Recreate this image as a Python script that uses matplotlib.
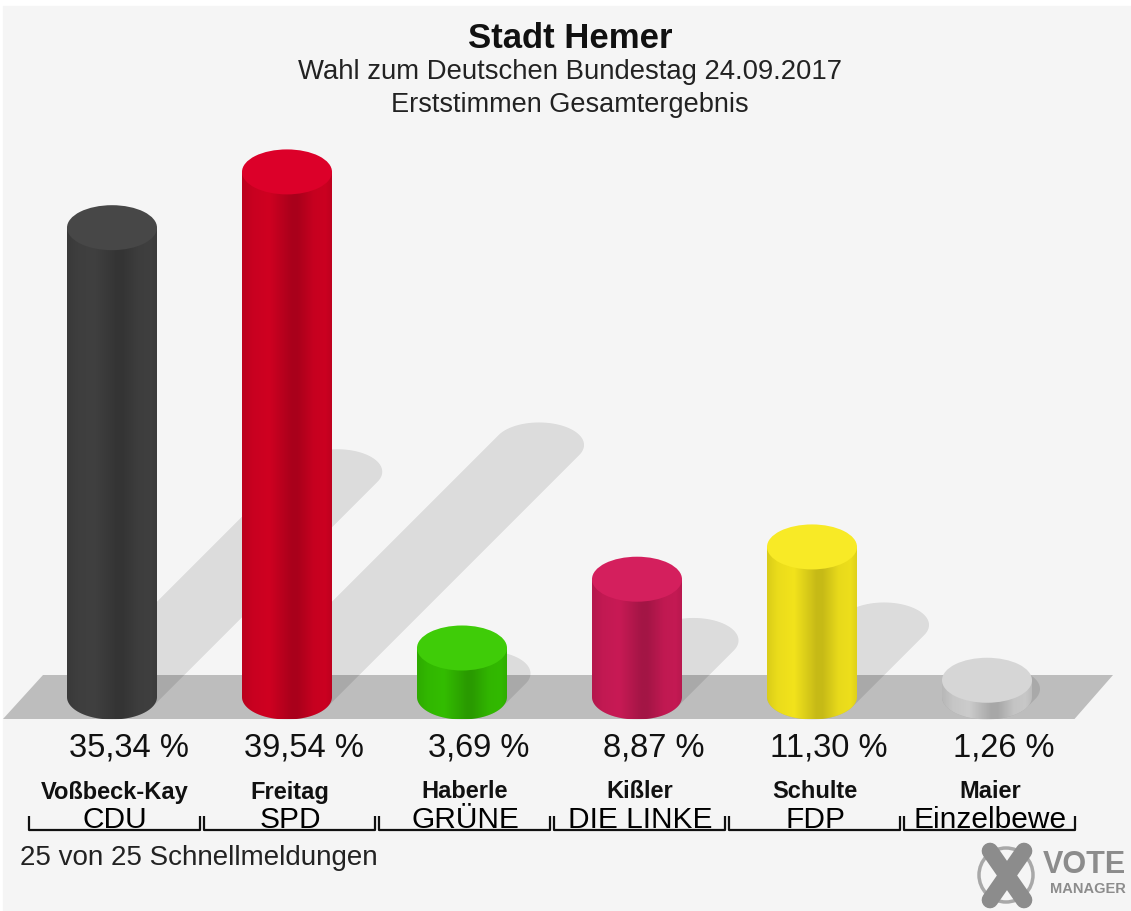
import numpy as np
import matplotlib
matplotlib.use("Agg")
import matplotlib.pyplot as plt
from matplotlib.patches import Ellipse, Polygon, Rectangle, PathPatch
from matplotlib.path import Path
from matplotlib.colors import to_rgb

plt.rcParams["font.family"] = ["Liberation Sans", "DejaVu Sans"]

# ---------------------------------------------------------------
# Daten
# ---------------------------------------------------------------
kandidaten = ["Voßbeck-Kay", "Freitag", "Haberle", "Kißler", "Schulte", "Maier"]
parteien = ["CDU", "SPD", "GRÜNE", "DIE LINKE", "FDP", "Einzelbewe"]
anteile = [35.34, 39.54, 3.69, 8.87, 11.30, 1.26]
farben = ["#404040", "#cf0021", "#33bd00", "#c81a55", "#f2e31c", "#cccccc"]
deckel = ["#474747", "#dc0029", "#3fcc08", "#d41f5d", "#f8ea26", "#d6d6d6"]

titel = "Stadt Hemer"
untertitel = "Wahl zum Deutschen Bundestag 24.09.2017"
untertitel2 = "Erststimmen Gesamtergebnis"
fusszeile = "25 von 25 Schnellmeldungen"

# ---------------------------------------------------------------
# Layout (Pixel -> Datenkoordinaten)
# ---------------------------------------------------------------
W, H = 1131, 911
PX_CAT = 175.0      # Pixel pro Kategorie
PX_PCT = 13.28      # Pixel pro Prozentpunkt
X0 = 112.0          # Mitte erster Balken
BASE = 697.0        # Bodenlinie (Mitte Grundellipse)
EW = 90 / PX_CAT    # Ellipsenbreite
EH = 45 / PX_PCT    # Ellipsenhoehe
SHADOW_K = 0.48


def py(px):
    return (BASE - px) / PX_PCT


def px_x(px):
    return (px - X0) / PX_CAT


def ellipse_pts(cx, cy, w, h, n=80):
    t = np.linspace(0, 2 * np.pi, n, endpoint=False)
    return np.column_stack([cx + w / 2 * np.cos(t), cy + h / 2 * np.sin(t)])


def hull(pts):
    pts = sorted(map(tuple, pts))
    def cross(o, a, b):
        return (a[0] - o[0]) * (b[1] - o[1]) - (a[1] - o[1]) * (b[0] - o[0])
    lower, upper = [], []
    for p in pts:
        while len(lower) >= 2 and cross(lower[-2], lower[-1], p) <= 0:
            lower.pop()
        lower.append(p)
    for p in reversed(pts):
        while len(upper) >= 2 and cross(upper[-2], upper[-1], p) <= 0:
            upper.pop()
        upper.append(p)
    return np.array(lower[:-1] + upper[:-1])


fig = plt.figure(figsize=(W / 100, H / 100), dpi=100, facecolor="white")
ax = fig.add_axes([0, 0, 1, 1])
ax.set_xlim(px_x(0), px_x(W))
ax.set_ylim(py(H), py(0))
ax.axis("off")

ax.add_patch(Rectangle((px_x(3), py(H)), px_x(W) - px_x(3), py(6) - py(H),
                       color="#f5f5f5", zorder=0))

n = len(anteile)
# Boden
boden = [(px_x(3), py(719)), (px_x(43), py(675)),
         (n - 0.5 + 0.22, py(675)), (n - 0.5 + 0.0, py(719))]
ax.add_patch(Polygon(boden, closed=True, color="#bdbdbd", zorder=1, lw=0))

# Schatten
for i, v in enumerate(anteile):
    dx = SHADOW_K * v * PX_PCT / PX_CAT
    dy = SHADOW_K * v
    pts = np.vstack([ellipse_pts(i, 0, EW, EH), ellipse_pts(i + dx, dy, EW, EH)])
    ax.add_patch(Polygon(hull(pts), closed=True, facecolor="black",
                         alpha=0.1, lw=0, zorder=2))

# Zylinder
prof_t = [0.0, 0.12, 0.3, 0.55, 0.62, 0.8, 0.93, 1.0]
prof_f = [0.9, 0.97, 1.0, 0.82, 0.82, 0.96, 0.98, 0.92]
tt = np.linspace(0, 1, 200)
ff = np.interp(tt, prof_t, prof_f)
for i, v in enumerate(anteile):
    base = np.array(to_rgb(farben[i]))
    grad = np.clip(base[None, :] * ff[:, None], 0, 1)[None, :, :]
    # Koerper: Rechteck + untere Halbellipse
    t = np.linspace(np.pi, 2 * np.pi, 60)
    bottom = np.column_stack([i + EW / 2 * np.cos(t), EH / 2 * np.sin(t)])
    verts = np.vstack([[i - EW / 2, v], bottom, [i + EW / 2, v], [i - EW / 2, v]])
    body = Path(verts, closed=True)
    patch = PathPatch(body, facecolor="none", edgecolor="none", zorder=3)
    ax.add_patch(patch)
    im = ax.imshow(grad, extent=[i - EW / 2, i + EW / 2, -EH / 2, v],
                   aspect="auto", interpolation="bilinear", zorder=3)
    im.set_clip_path(patch)
    ax.add_patch(Ellipse((i, v), EW, EH, facecolor=deckel[i],
                         edgecolor="none", zorder=4))

# Beschriftung
for i in range(n):
    ax.text(i + 17 / PX_CAT, py(748), f"{anteile[i]:.2f} %".replace(".", ","),
            ha="center", va="center", fontsize=23.5, color="#111111")
    ax.text(i + 3 / PX_CAT, py(792), kandidaten[i], ha="center", va="center",
            fontsize=17, fontweight="bold", color="#111111")
    ax.text(i + 3 / PX_CAT, py(820), parteien[i], ha="center", va="center",
            fontsize=21.5, color="#000000")
    l, r = i + (29 - 112) / PX_CAT, i + (200 - 112) / PX_CAT
    ax.plot([l, l, r, r], [py(816), py(830), py(830), py(816)],
            color="#111111", lw=1.6, solid_capstyle="butt", zorder=5)

fig.text(570 / W, 1 - 38 / H, titel, ha="center", va="center",
         fontsize=25, fontweight="bold", color="#111111")
fig.text(570 / W, 1 - 72 / H, untertitel, ha="center", va="center",
         fontsize=19.8, color="#222222")
fig.text(570 / W, 1 - 105 / H, untertitel2, ha="center", va="center",
         fontsize=19.5, color="#222222")
fig.text(20 / W, 1 - 858 / H, fusszeile, ha="left", va="center",
         fontsize=20, color="#222222")

# Logo
grau = "#8c8c8c"
ring = Ellipse((px_x(1006), py(875)), 54 / PX_CAT, 54 / PX_PCT, fill=False,
               edgecolor="#a8a8a8", lw=2.5, zorder=6)
ax.add_patch(ring)
lx = np.array([990, 1024]); ly = np.array([851, 900])
ax.plot(px_x(lx), py(ly), color=grau, lw=12, solid_capstyle="round", zorder=7)
ax.plot(px_x(lx[::-1]), py(ly), color=grau, lw=12, solid_capstyle="round", zorder=7)
fig.text(1126 / W, 1 - 865 / H, "VOTE", ha="right", va="center",
         fontsize=22, fontweight="bold", color=grau)
fig.text(1126 / W, 1 - 889 / H, "MANAGER", ha="right", va="center",
         fontsize=10.5, fontweight="bold", color=grau)

fig.savefig("out.png", dpi=100, facecolor="white")
